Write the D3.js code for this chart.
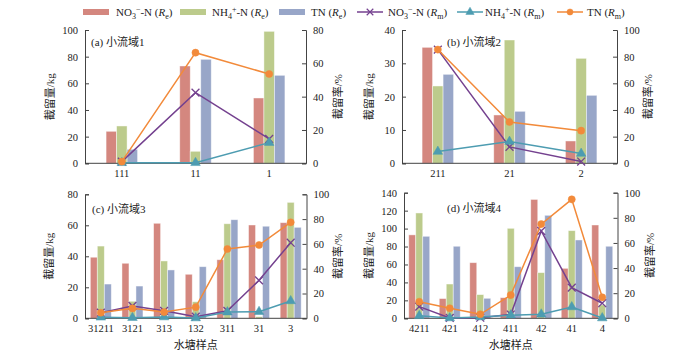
<!DOCTYPE html>
<html>
<head>
<meta charset="utf-8">
<title>截留量与截留率</title>
<style>
body { margin: 0; background: #fff; }
svg text { font-family: "Liberation Serif", "Noto Sans CJK SC", serif; fill: #222; }
.axis path, .axis line { stroke: #444; }
</style>
<script src="https://cdn.jsdelivr.net/npm/d3@7"></script>
</head>
<body>
<svg id="chart" width="700" height="354"></svg>
<script>
// colours of the three series (bars = Re, lines = Rm)
var barColors = ["#d4877f", "#bccb8c", "#98a6c8"];
var lineColors = ["#74418f", "#4d9cb1", "#f28a3a"];

// (a) 小流域1
var catsA = ["111", "11", "1"];
var no3ReA = [24, 73, 49];
var nh4ReA = [28, 9, 99];
var tnReA = [10.5, 78, 66];
var no3RmA = [1, 42.4, 14.6];
var nh4RmA = [0.3, 0.3, 12.4];
var tnRmA = [1, 66.4, 53.6];

// (b) 小流域2
var catsB = ["211", "21", "2"];
var no3ReB = [34.8, 14.5, 6.7];
var nh4ReB = [23.2, 37, 31.5];
var tnReB = [26.7, 15.6, 20.4];
var no3RmB = [85.3, 12.3, 1.3];
var nh4RmB = [8.8, 16.3, 7.3];
var tnRmB = [85.3, 31, 24.5];

// (c) 小流域3
var catsC = ["31211", "3121", "313", "132", "311", "31", "3"];
var no3ReC = [39.4, 35.5, 61.3, 28.4, 37.8, 60.2, 61.7];
var nh4ReC = [46.6, 11, 37, 10.7, 61, 1, 74.8];
var tnReC = [22.1, 20.8, 31.2, 33.3, 63.6, 59.4, 58.7];
var no3RmC = [4.5, 10, 6, 1.3, 6, 30.6, 61];
var nh4RmC = [0.8, 0.5, 1, 0.2, 5, 5.3, 14];
var tnRmC = [4.5, 8, 5, 9, 55.9, 59.1, 77.4];

// (d) 小流域4
var catsD = ["4211", "421", "412", "411", "42", "41", "4"];
var no3ReD = [93, 22, 62, 23, 132.5, 55.7, 104];
var nh4ReD = [117.4, 38.2, 26.4, 100.3, 50.9, 97.7, 15];
var tnReD = [91.4, 80.3, 22.3, 57.5, 114.8, 87.3, 80.3];
var no3RmD = [9.3, 0.3, 0.5, 3, 69.5, 24.4, 12];
var nh4RmD = [2, 0.2, 1, 2.5, 3.2, 9, 0.2];
var tnRmD = [13.2, 8, 3.2, 18.5, 75, 94.7, 16.7];

var svg = d3.select("#chart");

var panels = [
    {cats: catsA, re: [no3ReA, nh4ReA, tnReA], rm: [no3RmA, nh4RmA, tnRmA],
     x0: 85, x1: 306, top: 30, bottom: 163.3, lMax: 100, lStep: 20, rMax: 80, rStep: 20,
     barW: 10.5, title: "(a) 小流域1", tx: 91, ty: 46, lx: 50, rx: 338, xTitle: false},
    {cats: catsB, re: [no3ReB, nh4ReB, tnReB], rm: [no3RmB, nh4RmB, tnRmB],
     x0: 402, x1: 617, top: 30, bottom: 163.3, lMax: 40, lStep: 10, rMax: 100, rStep: 20,
     barW: 10.5, title: "(b) 小流域2", tx: 447, ty: 46, lx: 369, rx: 648, xTitle: false},
    {cats: catsC, re: [no3ReC, nh4ReC, tnReC], rm: [no3RmC, nh4RmC, tnRmC],
     x0: 85, x1: 306.5, top: 194.3, bottom: 318.3, lMax: 80, lStep: 20, rMax: 100, rStep: 20,
     barW: 7, title: "(c) 小流域3", tx: 92, ty: 213, lx: 49, rx: 338, xTitle: true},
    {cats: catsD, re: [no3ReD, nh4ReD, tnReD], rm: [no3RmD, nh4RmD, tnRmD],
     x0: 404, x1: 617.5, top: 192.7, bottom: 318.3, lMax: 140, lStep: 20, rMax: 100, rStep: 20,
     barW: 7, title: "(d) 小流域4", tx: 447, ty: 211.5, lx: 369, rx: 650, xTitle: true}
];

panels.forEach(drawPanel);
drawLegend();

function drawPanel(p) {
    var g = svg.append("g");

    var x = d3.scaleBand().domain(p.cats).range([p.x0, p.x1]);
    var yL = d3.scaleLinear().domain([0, p.lMax]).range([p.bottom, p.top]);
    var yR = d3.scaleLinear().domain([0, p.rMax]).range([p.bottom, p.top]);

    // bars
    p.re.forEach(function(vals, s) {
        g.selectAll(null)
            .data(vals)
            .enter()
            .append("rect")
            .attr("x", function(d, i) { return x(p.cats[i]) + x.bandwidth() / 2 + (s - 1.5) * p.barW; })
            .attr("y", function(d) { return yL(d); })
            .attr("width", p.barW)
            .attr("height", function(d) { return p.bottom - yL(d); })
            .attr("fill", barColors[s])
            .attr("stroke", "rgba(255,255,255,0.55)")
            .attr("stroke-width", 0.8);
    });

    // axes
    var left = g.append("g").attr("class", "axis")
        .attr("transform", "translate(" + p.x0 + ",0)")
        .call(d3.axisLeft(yL).tickValues(d3.range(0, p.lMax + 0.01, p.lStep)).tickSize(-4).tickPadding(7));
    var right = g.append("g").attr("class", "axis")
        .attr("transform", "translate(" + p.x1 + ",0)")
        .call(d3.axisRight(yR).tickValues(d3.range(0, p.rMax + 0.01, p.rStep)).tickSize(-4).tickPadding(7));
    var bottom = g.append("g").attr("class", "axis")
        .attr("transform", "translate(0," + p.bottom + ")")
        .call(d3.axisBottom(x).tickSize(0).tickPadding(6));
    [left, right, bottom].forEach(function(a) {
        a.select(".domain").attr("stroke", "#444");
        a.selectAll("text").attr("font-size", 10.5).attr("fill", "#222")
            .attr("font-family", "Liberation Serif, serif");
    });
    bottom.select(".domain").attr("d", "M" + p.x0 + ",0H" + p.x1);

    // lines
    var symbols = [d3.symbolX, d3.symbolTriangle, d3.symbolCircle];
    var symSize = [42, 40, 40];
    p.rm.forEach(function(vals, s) {
        var line = d3.line()
            .x(function(d, i) { return x(p.cats[i]) + x.bandwidth() / 2; })
            .y(function(d) { return yR(d); });
        g.append("path")
            .datum(vals)
            .attr("d", line)
            .attr("fill", "none")
            .attr("stroke", lineColors[s])
            .attr("stroke-width", 1.5);
        g.selectAll(null)
            .data(vals)
            .enter()
            .append("path")
            .attr("transform", function(d, i) {
                return "translate(" + (x(p.cats[i]) + x.bandwidth() / 2) + "," + yR(d) + ")";
            })
            .attr("d", d3.symbol().type(symbols[s]).size(symSize[s]))
            .attr("fill", lineColors[s])
            .attr("stroke", lineColors[s])
            .attr("stroke-width", s === 0 ? 1.3 : 0.5);
    });

    // titles
    g.append("text").attr("x", p.tx).attr("y", p.ty).attr("font-size", 11).text(p.title);
    var mid = (p.top + p.bottom) / 2;
    g.append("text")
        .attr("transform", "translate(" + p.lx + "," + mid + ") rotate(-90)")
        .attr("text-anchor", "middle").attr("dy", "0.35em")
        .attr("font-size", 11).text("截留量/kg");
    g.append("text")
        .attr("transform", "translate(" + p.rx + "," + mid + ") rotate(-90)")
        .attr("text-anchor", "middle").attr("dy", "0.35em")
        .attr("font-size", 11).text("截留率/%");
    if (p.xTitle) {
        g.append("text")
            .attr("x", (p.x0 + p.x1) / 2).attr("y", 349)
            .attr("text-anchor", "middle")
            .attr("font-size", 11).text("水塘样点");
    }
}

// text with sub/superscripts and italic parts
function richText(sel, parts) {
    var shift = 0;
    parts.forEach(function(pt) {
        var t = sel.append("tspan").text(pt[0]);
        var want = 0;
        if (pt[1] === "sub") { want = 3; t.attr("font-size", 8); }
        if (pt[1] === "sup") { want = -4.5; t.attr("font-size", 8); }
        if (pt[1] === "it") t.attr("font-style", "italic");
        if (want !== shift) { t.attr("dy", want - shift); shift = want; }
    });
}

function drawLegend() {
    var lg = svg.append("g");
    var yc = 12;
    var items = [
        {type: "bar", c: 0, x: 83, tx: 116, parts: [["NO"], ["3", "sub"], ["−", "sup"], ["-N ("], ["R", "it"], ["e", "sub"], [")"]]},
        {type: "bar", c: 1, x: 180, tx: 212, parts: [["NH"], ["4", "sub"], ["+", "sup"], ["-N ("], ["R", "it"], ["e", "sub"], [")"]]},
        {type: "bar", c: 2, x: 279, tx: 311, parts: [["TN ("], ["R", "it"], ["e", "sub"], [")"]]},
        {type: "line", c: 0, x: 357, tx: 388, parts: [["NO"], ["3", "sub"], ["−", "sup"], ["-N ("], ["R", "it"], ["m", "sub"], [")"]]},
        {type: "line", c: 1, x: 457, tx: 485, parts: [["NH"], ["4", "sub"], ["+", "sup"], ["-N ("], ["R", "it"], ["m", "sub"], [")"]]},
        {type: "line", c: 2, x: 557, tx: 587, parts: [["TN ("], ["R", "it"], ["m", "sub"], [")"]]}
    ];
    var symbols = [d3.symbolX, d3.symbolTriangle, d3.symbolCircle];
    items.forEach(function(it) {
        if (it.type === "bar") {
            lg.append("rect").attr("x", it.x).attr("y", yc - 3).attr("width", 26).attr("height", 6)
                .attr("fill", barColors[it.c]);
        } else {
            lg.append("line").attr("x1", it.x).attr("x2", it.x + 26).attr("y1", yc).attr("y2", yc)
                .attr("stroke", lineColors[it.c]).attr("stroke-width", 1.5);
            lg.append("path").attr("transform", "translate(" + (it.x + 13) + "," + yc + ")")
                .attr("d", d3.symbol().type(symbols[it.c]).size(30))
                .attr("fill", lineColors[it.c]).attr("stroke", lineColors[it.c])
                .attr("stroke-width", it.c === 0 ? 1.2 : 0.5);
        }
        var t = lg.append("text").attr("x", it.tx).attr("y", yc + 4).attr("font-size", 11);
        richText(t, it.parts);
    });
}
</script>
</body>
</html>
